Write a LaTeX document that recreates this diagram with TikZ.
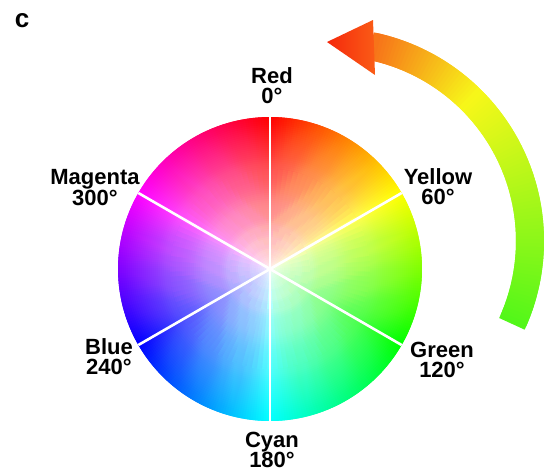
\documentclass[tikz,border=0pt]{standalone}
\usepackage{fontspec}
\setmainfont{Liberation Sans}
\usepackage{tikz}

\definecolor{headtip}{RGB}{245,40,12}
\definecolor{headbase}{RGB}{250,92,22}

\begin{document}
\begin{tikzpicture}[
    x=1pt, y=1pt,
    huelab/.style={align=center, inner sep=0pt, font=\fontsize{22}{20}\selectfont\bfseries},
    panel/.style={inner sep=0pt, font=\fontsize{26}{26}\selectfont\bfseries},
    spoke/.style={white, line width=2.6pt}
]
\useasboundingbox (0,0) rectangle (545,-472);

% hue wheel, red on top, clockwise (coarser steps near the centre)
\begin{scope}[shift={(270,-269)}]
\foreach \n/\rr in {360/152,120/100,40/40}{
    \pgfmathsetmacro\st{360/\n}
    \foreach \i in {1,...,\n}{
        \pgfmathsetmacro\h{(\i-1)*\st}
        \pgfmathsetmacro\as{90-\h+\st/2}
        \pgfmathsetmacro\ae{max(90-\h-1.5*\st,-270-\st/2)}
        \definecolor{huecol}{Hsb}{\h,1,1}
        \fill[huecol] (0,0) -- (\as:\rr pt) arc[start angle=\as, end angle=\ae, radius=\rr pt] -- cycle;
    }
}
% white towards the centre
\foreach \k in {1,...,76}{
    \pgfmathsetmacro\op{\k==76 ? 0.5/76 : 1/(\k+0.5)}
    \fill[white, fill opacity=\op] (0,0) circle[radius=2*\k pt];
}
\foreach \a in {30,90,...,330}
    \draw[spoke] (0,0) -- (\a:152pt);
\end{scope}

% labels
\node[huelab] (red) at (272,-86) {Red\\0°};
\node[huelab] (yellow) at (438,-187) {Yellow\\60°};
\node[huelab] (green) at (442,-360) {Green\\120°};
\node[huelab] (cyan) at (272,-450) {Cyan\\180°};
\node[huelab] (blue) at (109,-357) {Blue\\240°};
\node[huelab] (magenta) at (95,-188) {Magenta\\300°};
\node[panel] (tag) at (22,-21) {c};

% curved arrow, green to red
\begin{scope}[shift={(331,-241)}]
\foreach \a in {-24.6,-23.6,...,77}{
    \pgfmathsetmacro\hv{\a<45 ? 60+(45-\a)*0.64 : 60-(\a-45)*1.13}
    \definecolor{arccol}{Hsb}{\hv,0.9,0.97}
    \fill[arccol] (\a:185pt) arc[start angle=\a, end angle=\a+2, radius=185pt]
        -- (\a+2:213pt) arc[start angle=\a+2, end angle=\a, radius=213pt] -- cycle;
}
\end{scope}
\shade[left color=headtip, right color=headbase] (327,-42) -- (373,-20) -- (375,-75) -- cycle;

\end{tikzpicture}
\end{document}
